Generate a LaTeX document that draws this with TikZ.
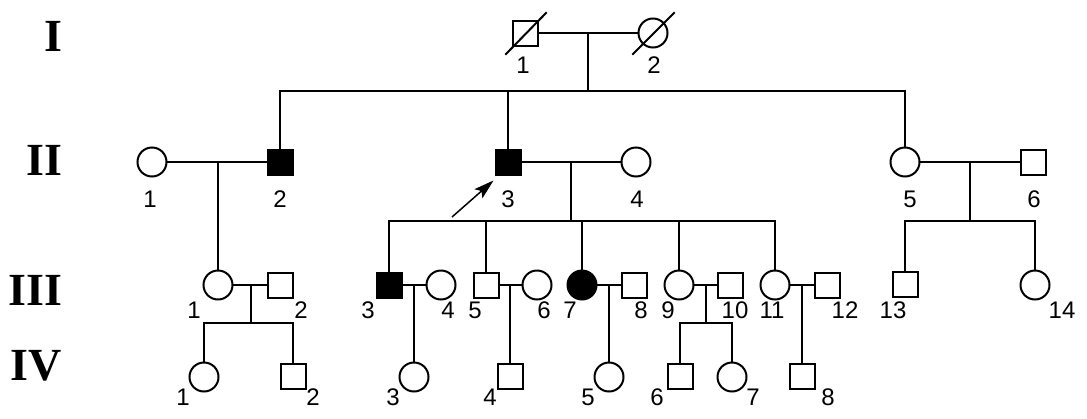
\documentclass[tikz,border=0pt]{standalone}
\usepackage{fontspec}
\setmainfont{Liberation Serif}
\newfontfamily\numfont{Liberation Sans}
\usetikzlibrary{arrows.meta}

\tikzset{
  male/.style={draw, rectangle, minimum size=25pt, inner sep=0pt},
  female/.style={draw, circle, minimum size=29pt, inner sep=0pt},
  affected/.style={fill=black},
  idlbl/.style={font=\numfont\fontsize{24}{24}\selectfont, inner sep=0pt},
  genlbl/.style={font=\bfseries\fontsize{46}{46}\selectfont, anchor=east, inner sep=0pt},
}

\begin{document}
\begin{tikzpicture}[x=1pt, y=-1pt, line width=2pt, line cap=rect]
            \useasboundingbox (0,0) rectangle (1087,418);
            % generations
            \node[genlbl] (gI) at (63,36) {I};
            \node[genlbl] (gII) at (63,160) {II};
            \node[genlbl] (gIII) at (63,290) {III};
            \node[genlbl] (gIV) at (63,366) {IV};
            % generation I
            \node[male] (I1) at (525,33) {};
            \node[female] (I2) at (653,33) {};
            \draw (I1.center) +(-19,21) -- +(21,-20);
            \draw (I2.center) +(-20,21) -- +(21,-20);
            \node[idlbl] (lI1) at (523,65) {1};
            \node[idlbl] (lI2) at (654,65) {2};
            % generation II
            \node[female] (II1) at (152,162) {};
            \node[male, affected] (II2) at (280,162) {};
            \node[male, affected] (II3) at (508,162) {};
            \node[female] (II4) at (636,162) {};
            \node[female] (II5) at (905,162) {};
            \node[male] (II6) at (1033,162) {};
            \node[idlbl] (lII1) at (150,199) {1};
            \node[idlbl] (lII2) at (280,199) {2};
            \node[idlbl] (lII3) at (508,199) {3};
            \node[idlbl] (lII4) at (637,199) {4};
            \node[idlbl] (lII5) at (910,199) {5};
            \node[idlbl] (lII6) at (1034,199) {6};
            % generation III
            \node[female] (III1) at (218,285) {};
            \node[male] (III2) at (280,285) {};
            \node[male, affected] (III3) at (389,285) {};
            \node[female] (III4) at (441,285) {};
            \node[male] (III5) at (486,285) {};
            \node[female] (III6) at (537,285) {};
            \node[female, affected] (III7) at (582,285) {};
            \node[male] (III8) at (634,285) {};
            \node[female] (III9) at (679,285) {};
            \node[male] (III10) at (730,285) {};
            \node[female] (III11) at (775,285) {};
            \node[male] (III12) at (827,285) {};
            \node[male] (III13) at (905,284) {};
            \node[female] (III14) at (1035,285) {};
            \node[idlbl] (lIII1) at (194,310) {1};
            \node[idlbl] (lIII2) at (301,310) {2};
            \node[idlbl] (lIII3) at (368,310) {3};
            \node[idlbl] (lIII4) at (448,310) {4};
            \node[idlbl] (lIII5) at (475,310) {5};
            \node[idlbl] (lIII6) at (544,310) {6};
            \node[idlbl] (lIII7) at (570,310) {7};
            \node[idlbl] (lIII8) at (641,310) {8};
            \node[idlbl] (lIII9) at (668,310) {9};
            \node[idlbl] (lIII10) at (735,310) {10};
            \node[idlbl] (lIII11) at (772,310) {11};
            \node[idlbl] (lIII12) at (845,310) {12};
            \node[idlbl] (lIII13) at (893,310) {13};
            \node[idlbl] (lIII14) at (1062,310) {14};
            % generation IV
            \node[female] (IV1) at (204,377) {};
            \node[male] (IV2) at (293,376) {};
            \node[female] (IV3) at (414,377) {};
            \node[male] (IV4) at (510,376) {};
            \node[female] (IV5) at (609,377) {};
            \node[male] (IV6) at (680,376) {};
            \node[female] (IV7) at (732,377) {};
            \node[male] (IV8) at (802,376) {};
            \node[idlbl] (lIV1) at (183,397) {1};
            \node[idlbl] (lIV2) at (313,397) {2};
            \node[idlbl] (lIV3) at (393,397) {3};
            \node[idlbl] (lIV4) at (490,397) {4};
            \node[idlbl] (lIV5) at (588,397) {5};
            \node[idlbl] (lIV6) at (657,397) {6};
            \node[idlbl] (lIV7) at (753,397) {7};
            \node[idlbl] (lIV8) at (828,397) {8};
            % I-1 x I-2
            \coordinate (mI) at (588,33);
            \coordinate (sI) at (588,91);
            \draw (I1) -- (I2);
            \draw (mI) -- (sI);
            \draw (II2 |- sI) -- (II5 |- sI);
            \draw (II2) -- (II2 |- sI);
            \draw (II3) -- (II3 |- sI);
            \draw (II5) -- (II5 |- sI);
            % II-1 x II-2
            \coordinate (mII1) at (218,162);
            \draw (II1) -- (II2);
            \draw (mII1) -- (III1);
            % II-3 x II-4
            \coordinate (mII3) at (571,162);
            \coordinate (sII3) at (571,221);
            \draw (II3) -- (II4);
            \draw (mII3) -- (sII3);
            \draw (III3 |- sII3) -- (III11 |- sII3);
            \draw (III3) -- (III3 |- sII3);
            \draw (III5) -- (III5 |- sII3);
            \draw (III7) -- (III7 |- sII3);
            \draw (III9) -- (III9 |- sII3);
            \draw (III11) -- (III11 |- sII3);
            % II-5 x II-6
            \coordinate (mII5) at (970,162);
            \coordinate (sII5) at (970,221);
            \draw (II5) -- (II6);
            \draw (mII5) -- (sII5);
            \draw (III13 |- sII5) -- (III14 |- sII5);
            \draw (III13) -- (III13 |- sII5);
            \draw (III14) -- (III14 |- sII5);
            % generation III couples
            \coordinate (mIII1) at (251,285);
            \coordinate (sIII1) at (251,323);
            \draw (III1) -- (III2);
            \draw (mIII1) -- (sIII1);
            \draw (IV1 |- sIII1) -- (IV2 |- sIII1);
            \draw (IV1) -- (IV1 |- sIII1);
            \draw (IV2) -- (IV2 |- sIII1);
            \coordinate (mIII3) at (414,285);
            \draw (III3) -- (III4);
            \draw (mIII3) -- (IV3);
            \coordinate (mIII5) at (510,285);
            \draw (III5) -- (III6);
            \draw (mIII5) -- (IV4);
            \coordinate (mIII7) at (609,285);
            \draw (III7) -- (III8);
            \draw (mIII7) -- (IV5);
            \coordinate (mIII9) at (706,285);
            \coordinate (sIII9) at (706,323);
            \draw (III9) -- (III10);
            \draw (mIII9) -- (sIII9);
            \draw (IV6 |- sIII9) -- (IV7 |- sIII9);
            \draw (IV6) -- (IV6 |- sIII9);
            \draw (IV7) -- (IV7 |- sIII9);
            \coordinate (mIII11) at (802,285);
            \draw (III11) -- (III12);
            \draw (mIII11) -- (IV8);
            % proband
            \coordinate (arrII3) at (452,217);
            \draw[line width=1.5pt, line cap=butt, -{Stealth[length=20pt,width=12pt,inset=4pt]}] (arrII3) -- ([shift={(-1,5)}]II3.south west);
        \end{tikzpicture}
\end{document}
